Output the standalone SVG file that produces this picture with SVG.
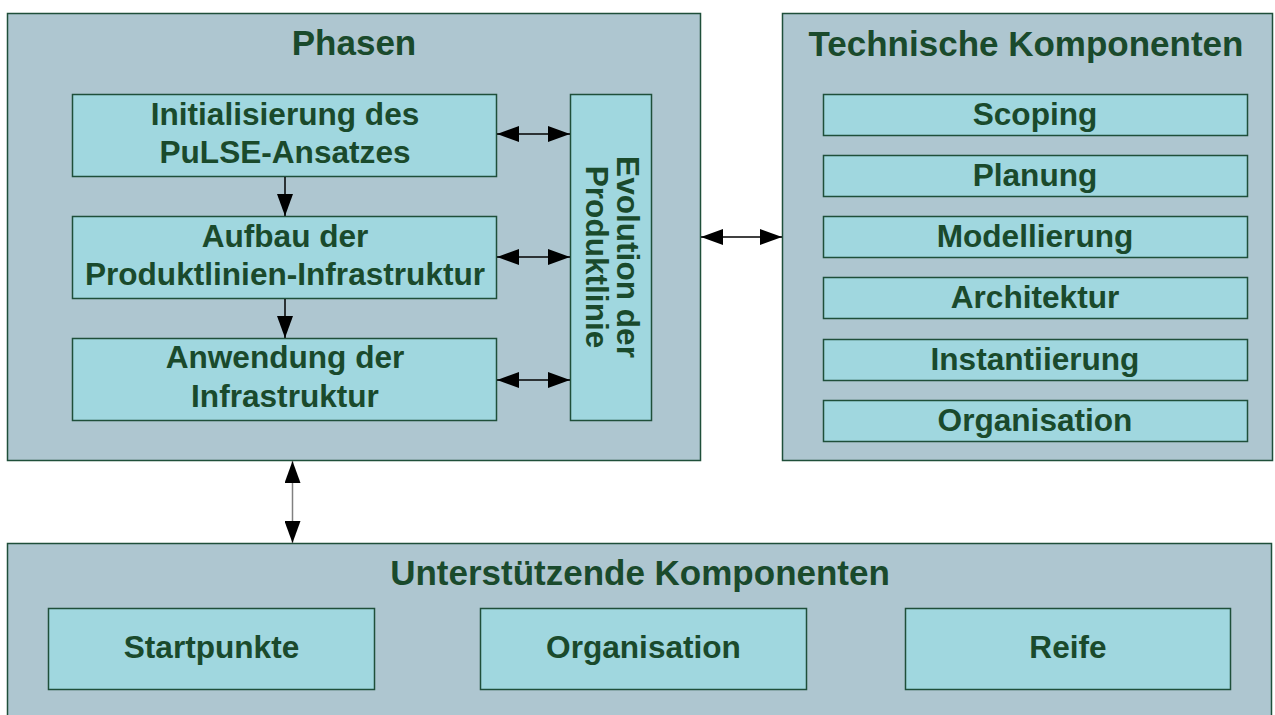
<svg xmlns="http://www.w3.org/2000/svg" width="1275" height="715" viewBox="0 0 1275 715">
<style>
.outer{fill:#aec6d0;stroke:#1f4f3a;stroke-width:1.5}
.inner{fill:#a0d7df;stroke:#1f4f3a;stroke-width:1.5}
.title{font-family:"Liberation Sans",Arial,sans-serif;font-weight:bold;font-size:35px;fill:#1a4a2c;text-anchor:middle}
.lbl{font-family:"Liberation Sans",Arial,sans-serif;font-weight:bold;font-size:31.6px;fill:#1a4a2c;text-anchor:middle}
.conn{stroke:#000;stroke-width:1.5;fill:none}
</style>
<defs>
<marker id="ah" viewBox="0 0 22 16" refX="22" refY="8" markerWidth="22" markerHeight="16" markerUnits="userSpaceOnUse" orient="auto-start-reverse">
<path d="M0,0 L22,8 L0,16 Z" fill="#000"/>
</marker>
</defs>
<rect width="1275" height="715" fill="#fff"/>
<g id="phasen">
<rect class="outer" x="7.5" y="13.5" width="693" height="447"/>
<text class="title" x="354" y="55">Phasen</text>
</g>
<g id="init">
<rect class="inner" x="72.5" y="94.5" width="424" height="82"/>
<text class="lbl" x="285" y="125">Initialisierung des</text>
<text class="lbl" x="285" y="163">PuLSE-Ansatzes</text>
</g>
<g id="aufbau">
<rect class="inner" x="72.5" y="216.5" width="424" height="82"/>
<text class="lbl" x="285" y="247">Aufbau der</text>
<text class="lbl" x="285" y="285">Produktlinien-Infrastruktur</text>
</g>
<g id="anwendung">
<rect class="inner" x="72.5" y="338.5" width="424" height="82"/>
<text class="lbl" x="285" y="368">Anwendung der</text>
<text class="lbl" x="285" y="407">Infrastruktur</text>
</g>
<g id="evolution">
<rect class="inner" x="570.5" y="94.5" width="81" height="326"/>
<g transform="translate(611,257) rotate(90)">
<text class="lbl" x="0" y="-5.5">Evolution der</text>
<text class="lbl" x="0" y="25.5">Produktlinie</text>
</g>
</g>
<g id="technik">
<rect class="outer" x="782.5" y="13.5" width="490" height="447"/>
<text class="title" x="1026" y="56">Technische Komponenten</text>
</g>
<g id="scoping"><rect class="inner" x="823.5" y="94.5" width="424" height="41"/><text class="lbl" x="1035" y="124.5">Scoping</text></g>
<g id="planung"><rect class="inner" x="823.5" y="155.5" width="424" height="41"/><text class="lbl" x="1035" y="185.5">Planung</text></g>
<g id="modellierung"><rect class="inner" x="823.5" y="216.5" width="424" height="41"/><text class="lbl" x="1035" y="246.5">Modellierung</text></g>
<g id="architektur"><rect class="inner" x="823.5" y="277.5" width="424" height="41"/><text class="lbl" x="1035" y="307.5">Architektur</text></g>
<g id="instantiierung"><rect class="inner" x="823.5" y="339.5" width="424" height="41"/><text class="lbl" x="1035" y="369.5">Instantiierung</text></g>
<g id="organisation-t"><rect class="inner" x="823.5" y="400.5" width="424" height="41"/><text class="lbl" x="1035" y="430.5">Organisation</text></g>
<g id="unterstuetzend">
<rect class="outer" x="7.5" y="543.5" width="1264" height="180"/>
<text class="title" x="640" y="585">Unterstützende Komponenten</text>
</g>
<g id="startpunkte"><rect class="inner" x="48.5" y="608.5" width="326" height="81"/><text class="lbl" x="211.5" y="658">Startpunkte</text></g>
<g id="organisation-u"><rect class="inner" x="480.5" y="608.5" width="326" height="81"/><text class="lbl" x="643.5" y="658">Organisation</text></g>
<g id="reife"><rect class="inner" x="905.5" y="608.5" width="325" height="81"/><text class="lbl" x="1068" y="658">Reife</text></g>
<g id="connectors">
<line class="conn" x1="497" y1="134" x2="570" y2="134" marker-start="url(#ah)" marker-end="url(#ah)"/>
<line class="conn" x1="497" y1="257" x2="570" y2="257" marker-start="url(#ah)" marker-end="url(#ah)"/>
<line class="conn" x1="497" y1="380" x2="570" y2="380" marker-start="url(#ah)" marker-end="url(#ah)"/>
<line class="conn" x1="285" y1="177" x2="285" y2="216" marker-end="url(#ah)"/>
<line class="conn" x1="285" y1="299" x2="285" y2="338" marker-end="url(#ah)"/>
<line class="conn" x1="701" y1="237" x2="782" y2="237" marker-start="url(#ah)" marker-end="url(#ah)"/>
<line class="conn" x1="292.5" y1="461" x2="292.5" y2="543" style="stroke:#808080" marker-start="url(#ah)" marker-end="url(#ah)"/>
</g>
</svg>
